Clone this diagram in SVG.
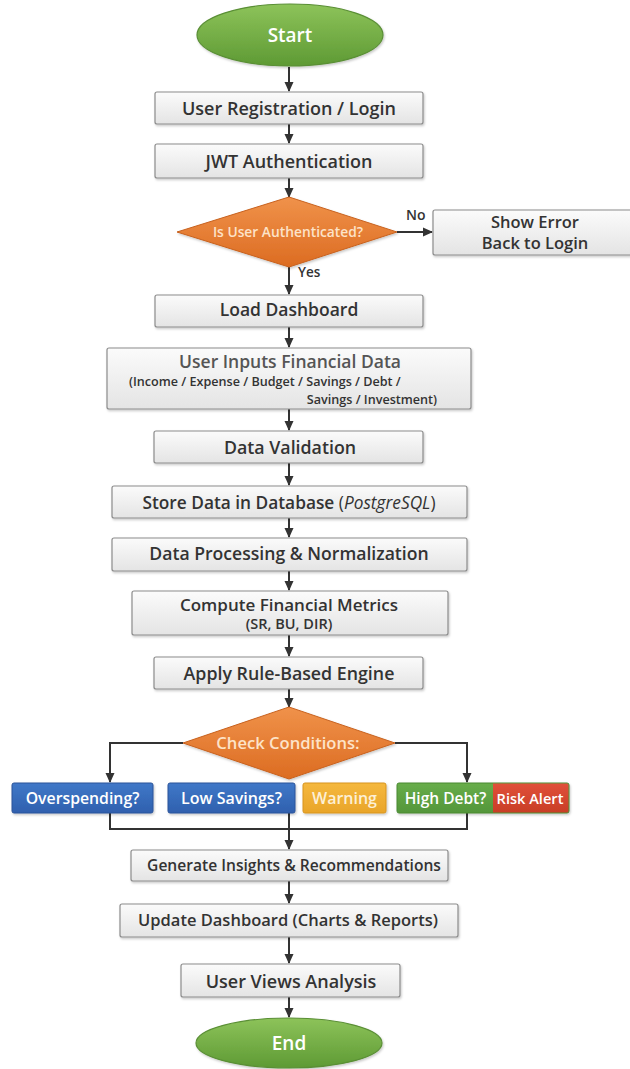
<svg xmlns="http://www.w3.org/2000/svg" width="630" height="1069" viewBox="0 0 630 1069">
<defs>
<linearGradient id="gBox" x1="0" y1="0" x2="0" y2="1"><stop offset="0" stop-color="#fbfbfb"/><stop offset="1" stop-color="#e4e4e4"/></linearGradient>
<linearGradient id="gGreen" x1="0" y1="0" x2="0" y2="1"><stop offset="0" stop-color="#8dc35a"/><stop offset="1" stop-color="#5e9a34"/></linearGradient>
<linearGradient id="gOrange" x1="0" y1="0" x2="0" y2="1"><stop offset="0" stop-color="#f0924a"/><stop offset="1" stop-color="#dc6c22"/></linearGradient>
<linearGradient id="gBlue" x1="0" y1="0" x2="0" y2="1"><stop offset="0" stop-color="#4078c8"/><stop offset="1" stop-color="#2f60ae"/></linearGradient>
<linearGradient id="gYellow" x1="0" y1="0" x2="0" y2="1"><stop offset="0" stop-color="#f5b83e"/><stop offset="1" stop-color="#e9a52a"/></linearGradient>
<linearGradient id="gG2" x1="0" y1="0" x2="0" y2="1"><stop offset="0" stop-color="#68ad4a"/><stop offset="1" stop-color="#54963a"/></linearGradient>
<linearGradient id="gRed" x1="0" y1="0" x2="0" y2="1"><stop offset="0" stop-color="#e0503a"/><stop offset="1" stop-color="#c93e26"/></linearGradient>
<filter id="sh" x="-10%" y="-20%" width="120%" height="150%"><feDropShadow dx="1" dy="1.5" stdDeviation="1.2" flood-color="#000" flood-opacity="0.22"/></filter>
<marker id="arr" markerWidth="10" markerHeight="10" refX="9" refY="5" orient="auto" markerUnits="userSpaceOnUse"><path d="M0,0.5 L10,5 L0,9.5 z" fill="#333"/></marker>
<style>
.box{fill:url(#gBox);stroke:#8c8c8c;stroke-width:1.2;filter:url(#sh)}
.t{font-family:"Open Sans","Noto Sans","DejaVu Sans",sans-serif;font-weight:600;fill:#333;text-anchor:middle}
.c{stroke:#333;stroke-width:2;fill:none}
.ca{stroke:#333;stroke-width:2;fill:none;marker-end:url(#arr)}
</style>
</defs>
<rect width="630" height="1069" fill="#fff"/>

<g id="connectors">
<line class="ca" x1="289" y1="67" x2="289" y2="91"/>
<line class="ca" x1="289" y1="124" x2="289" y2="143"/>
<line class="ca" x1="289" y1="178" x2="289" y2="197"/>
<line class="ca" x1="397" y1="232" x2="432" y2="232"/>
<line class="ca" x1="289" y1="267" x2="289" y2="294"/>
<line class="ca" x1="289" y1="327" x2="289" y2="347"/>
<line class="ca" x1="289" y1="409" x2="289" y2="430"/>
<line class="ca" x1="289" y1="463" x2="289" y2="485"/>
<line class="ca" x1="289" y1="518" x2="289" y2="537"/>
<line class="ca" x1="289" y1="571" x2="289" y2="590"/>
<line class="ca" x1="289" y1="635" x2="289" y2="656"/>
<line class="ca" x1="289" y1="689" x2="289" y2="707"/>
<polyline class="ca" points="183,743 110,743 110,782"/>
<polyline class="ca" points="395,743 467,743 467,782"/>
<polyline class="c" points="110,813 110,829 467,829 467,813"/>
<line class="ca" x1="289" y1="813" x2="289" y2="849"/>
<line class="ca" x1="289" y1="881" x2="289" y2="903"/>
<line class="ca" x1="289" y1="937" x2="289" y2="963"/>
<line class="ca" x1="289" y1="997" x2="289" y2="1017"/>
<text class="t" x="406" y="220" font-size="14" style="text-anchor:start">No</text>
<text class="t" x="298" y="277" font-size="13.5" style="text-anchor:start">Yes</text>
</g>

<g id="start">
<ellipse cx="290" cy="35" rx="93" ry="31" fill="url(#gGreen)" stroke="#5a8f35" stroke-width="1.2" filter="url(#sh)"/>
<text class="t" x="290" y="42" font-size="19" style="fill:#fff">Start</text>
</g>

<g id="registration">
<rect class="box" x="155" y="92" width="268" height="32" rx="2"/>
<text class="t" x="289" y="114.5" font-size="18">User Registration / Login</text>
</g>

<g id="jwt">
<rect class="box" x="155" y="144" width="268" height="34" rx="2"/>
<text class="t" x="289" y="167.5" font-size="18">JWT Authentication</text>
</g>

<g id="auth-check">
<polygon points="177,232 289,197 397,232 289,267" fill="url(#gOrange)" stroke="#c8621f" stroke-width="1" filter="url(#sh)"/>
<text class="t" x="288" y="237" font-size="13.8" style="fill:#fde3c8">Is User Authenticated?</text>
</g>

<g id="show-error">
<rect class="box" x="433" y="210" width="205" height="45" rx="2"/>
<text class="t" x="535" y="227.5" font-size="16.5">Show Error</text>
<text class="t" x="535" y="249" font-size="16.5">Back to Login</text>
</g>

<g id="load-dashboard">
<rect class="box" x="155" y="295" width="268" height="32" rx="2"/>
<text class="t" x="289" y="315.5" font-size="17.5">Load Dashboard</text>
</g>

<g id="user-inputs">
<rect class="box" x="107" y="348" width="364" height="61" rx="2"/>
<text class="t" x="290" y="368" font-size="17.5" style="fill:#555">User Inputs Financial Data</text>
<text class="t" x="129" y="386" font-size="12.6" style="text-anchor:start">(Income / Expense / Budget / Savings / Debt /</text>
<text class="t" x="437" y="403.5" font-size="12.6" style="text-anchor:end">Savings / Investment)</text>
</g>

<g id="validation">
<rect class="box" x="154" y="431" width="269" height="32" rx="2"/>
<text class="t" x="290" y="453.5" font-size="17.8">Data Validation</text>
</g>

<g id="store">
<rect class="box" x="112" y="486" width="355" height="32" rx="2"/>
<text class="t" x="289" y="508.5" font-size="17.3">Store Data in Database <tspan font-weight="400">(<tspan font-style="italic">PostgreSQL</tspan>)</tspan></text>
</g>

<g id="processing">
<rect class="box" x="112" y="538" width="355" height="33" rx="2"/>
<text class="t" x="289" y="559.5" font-size="17.6">Data Processing &amp; Normalization</text>
</g>

<g id="compute">
<rect class="box" x="132" y="591" width="316" height="44" rx="2"/>
<text class="t" x="289" y="611" font-size="17">Compute Financial Metrics</text>
<text class="t" x="289" y="629" font-size="14.5">(SR, BU, DIR)</text>
</g>

<g id="rule-engine">
<rect class="box" x="154" y="657" width="269" height="32" rx="2"/>
<text class="t" x="289" y="679.5" font-size="17.8">Apply Rule-Based Engine</text>
</g>

<g id="check-conditions">
<polygon points="183,743 289,707 395,743 289,779" fill="url(#gOrange)" stroke="#c8621f" stroke-width="1" filter="url(#sh)"/>
<text class="t" x="288" y="749" font-size="16.6" style="fill:#fde3c8">Check Conditions:</text>
</g>

<g id="overspending">
<rect x="12" y="783" width="141" height="30" rx="2" fill="url(#gBlue)" stroke="#2a549a" stroke-width="1" filter="url(#sh)"/>
<text class="t" x="82.5" y="804" font-size="15.8" style="fill:#fff">Overspending?</text>
</g>

<g id="low-savings">
<rect x="168" y="783" width="127" height="30" rx="2" fill="url(#gBlue)" stroke="#2a549a" stroke-width="1" filter="url(#sh)"/>
<text class="t" x="231.5" y="804" font-size="16" style="fill:#fff">Low Savings?</text>
</g>

<g id="warning">
<rect x="303" y="783" width="83" height="30" rx="2" fill="url(#gYellow)" stroke="#d8951f" stroke-width="1" filter="url(#sh)"/>
<text class="t" x="344.5" y="804" font-size="16" style="fill:#fdf0d6">Warning</text>
</g>

<g id="high-debt">
<rect x="397" y="783" width="172" height="30" rx="2" fill="url(#gG2)" stroke="#4a8a33" stroke-width="1" filter="url(#sh)"/>
<path d="M493,783.5 H567 Q568.5,783.5 568.5,785 V811 Q568.5,812.5 567,812.5 H493 Z" fill="url(#gRed)"/>
<text class="t" x="445.5" y="804" font-size="15.5" style="fill:#fff">High Debt?</text>
<text class="t" x="530" y="804" font-size="14.6" style="fill:#fff">Risk Alert</text>
</g>

<g id="insights">
<rect class="box" x="131" y="850" width="317" height="31" rx="2"/>
<text class="t" x="294" y="871" font-size="15.6">Generate Insights &amp; Recommendations</text>
</g>

<g id="update-dashboard">
<rect class="box" x="120" y="904" width="338" height="33" rx="2"/>
<text class="t" x="288" y="926" font-size="16.5">Update Dashboard (Charts &amp; Reports)</text>
</g>

<g id="user-views">
<rect class="box" x="181" y="964" width="219" height="33" rx="2"/>
<text class="t" x="291" y="987.5" font-size="18">User Views Analysis</text>
</g>

<g id="end">
<ellipse cx="289" cy="1043" rx="93" ry="25" fill="url(#gGreen)" stroke="#5a8f35" stroke-width="1.2" filter="url(#sh)"/>
<text class="t" x="289" y="1050" font-size="19" style="fill:#fff">End</text>
</g>
</svg>
